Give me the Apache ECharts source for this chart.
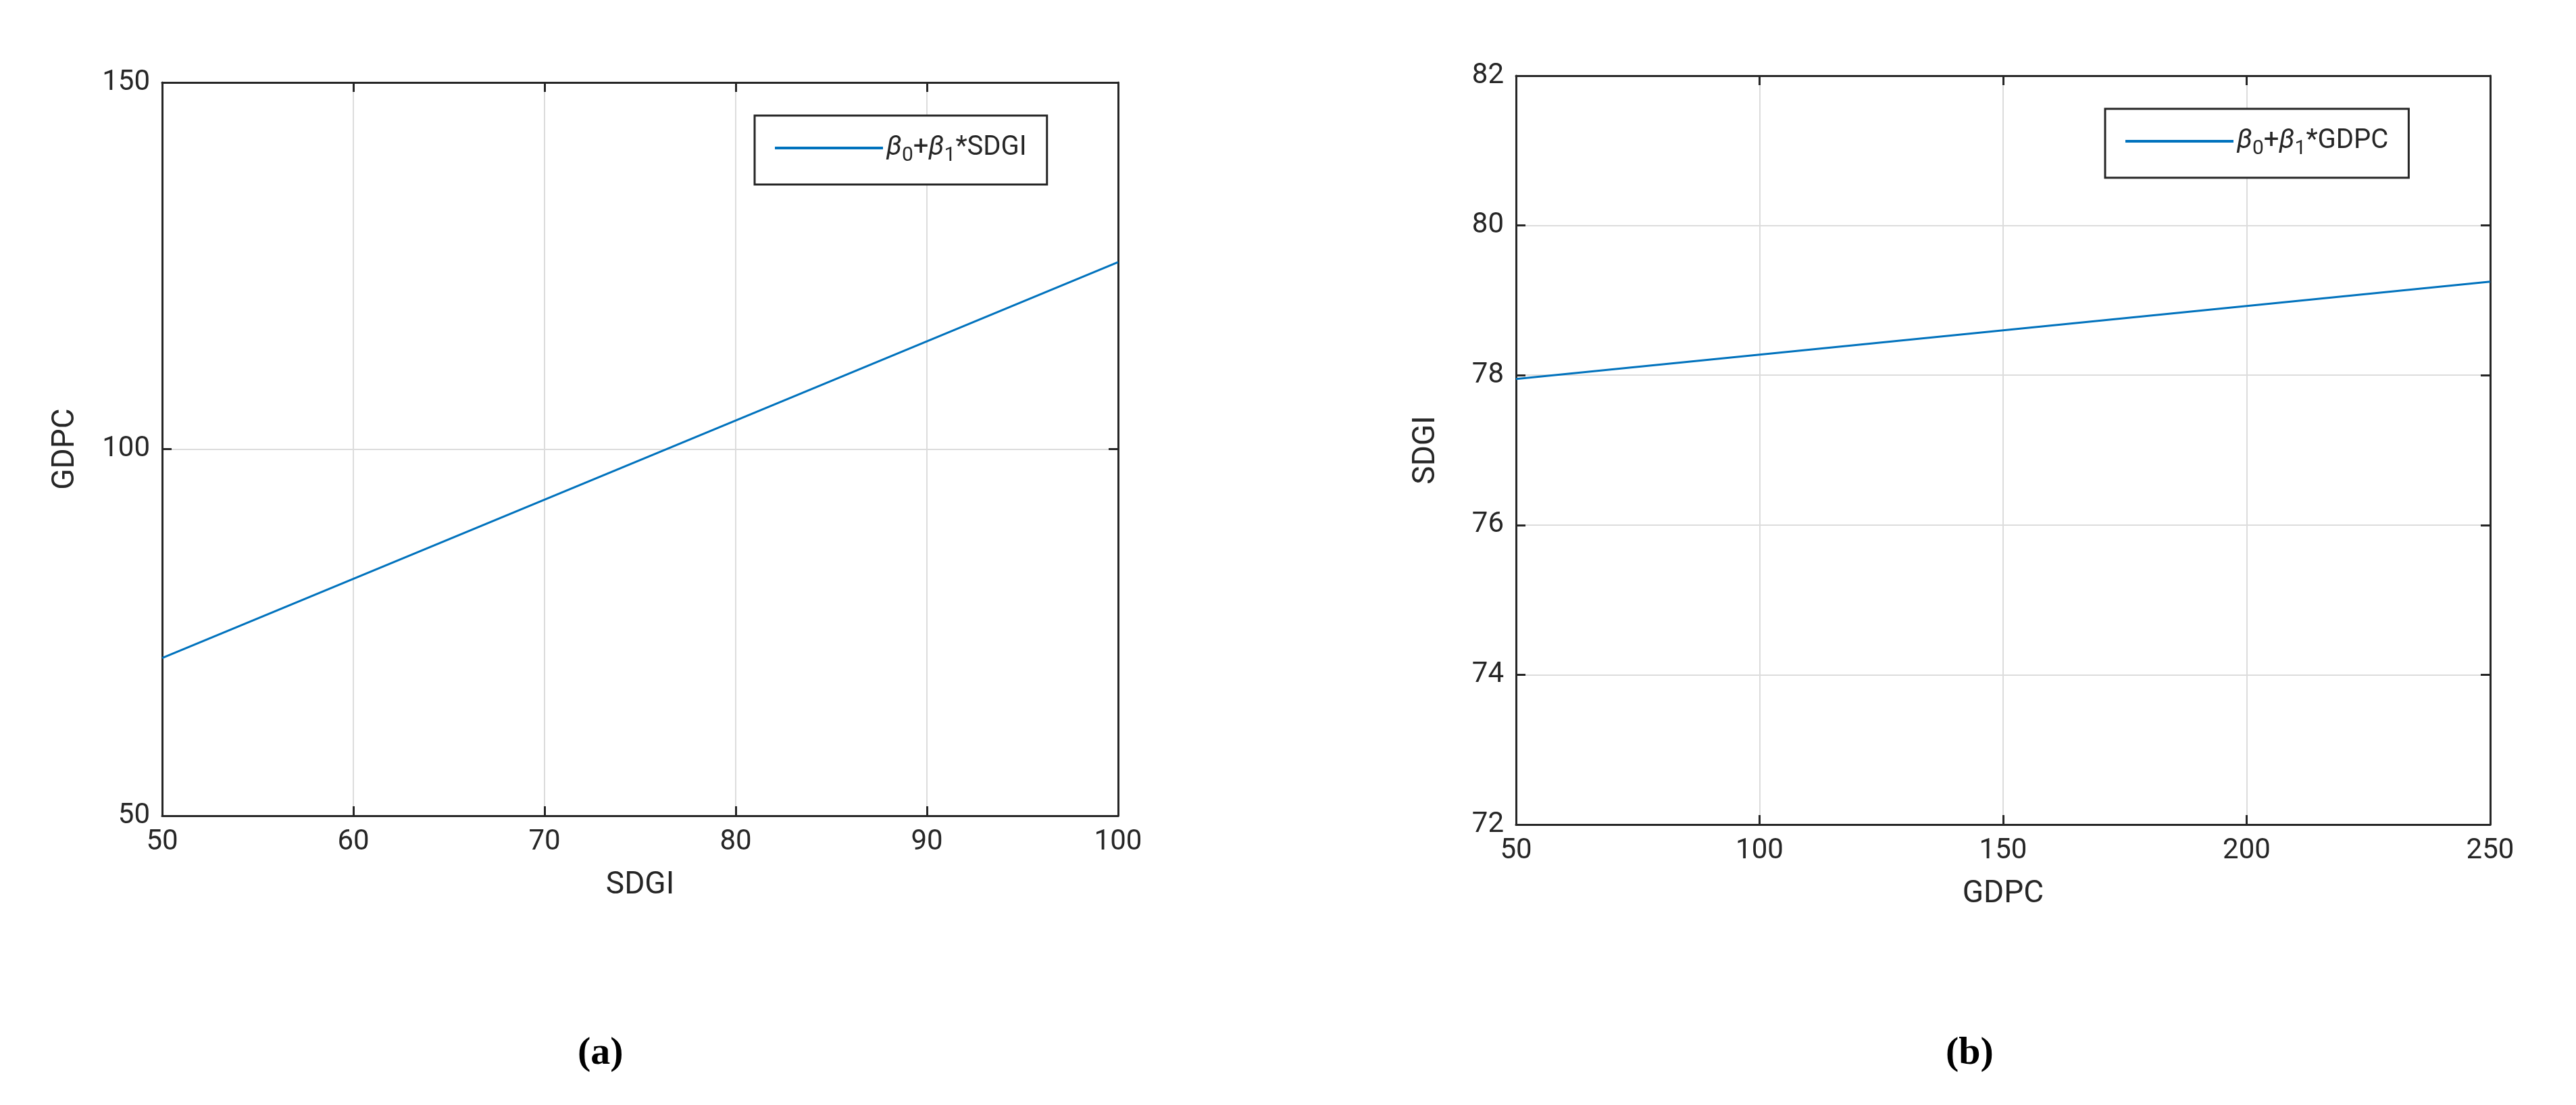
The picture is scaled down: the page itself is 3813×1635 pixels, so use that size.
<!DOCTYPE html><html><head><meta charset="utf-8"><script src="https://cdn.jsdelivr.net/npm/echarts@6/dist/echarts.min.js"></script>
<style>html,body{margin:0;background:#fff}#c{width:3813px;height:1635px}</style></head><body><div id="c"></div><script>
const sdgiA=[50,100], gdpcA=[71.5,125.5];
const gdpcB=[50,250], sdgiB=[77.95,79.25];
const ticksAX=[50,60,70,80,90,100], ticksAY=[50,100,150];
const ticksBX=[50,100,150,200,250], ticksBY=[72,74,76,78,80,82];
const F='Roboto, "Liberation Sans", sans-serif', C='#262626';
const ch=echarts.init(document.getElementById('c'));
function ax(pos,min,max,iv,gi,main,name,gap){
  return {type:'value',gridIndex:gi,position:pos,min,max,interval:iv,
    name:main?name:'',nameLocation:'middle',nameGap:gap,nameTextStyle:{fontSize:46,color:C,fontFamily:F},
    axisLine:{show:true,lineStyle:{color:C,width:3}},
    axisTick:{show:true,inside:true,length:14,lineStyle:{color:C,width:3}},
    axisLabel:{show:main,fontSize:42,color:C,fontFamily:F,margin:18},
    splitLine:{show:main,lineStyle:{color:'#dcdcdc',width:2}}};
}
const rich={i:{fontStyle:'italic',fontSize:40,fontFamily:F,color:C},s:{fontSize:30,fontFamily:F,color:C,padding:[22,0,0,0]},t:{fontSize:40,fontFamily:F,color:C}};
ch.setOption({animation:false,
 grid:[{left:240,top:122,width:1415,height:1085},{left:2244,top:112,width:1442,height:1108}],
 xAxis:[ax('bottom',50,100,10,0,true,'SDGI',80),ax('top',50,100,10,0,false),
        ax('bottom',50,250,50,1,true,'GDPC',80),ax('top',50,250,50,1,false)],
 yAxis:[ax('left',50,150,50,0,true,'GDPC',120),ax('right',50,150,50,0,false),
        ax('left',72,82,2,1,true,'SDGI',110),ax('right',72,82,2,1,false)],
 legend:[
  {left:1117,top:171,width:489,height:108,padding:[28,30,28,30],itemWidth:160,itemHeight:4,itemGap:20,borderColor:C,borderWidth:3,backgroundColor:'#fff',
   data:[{name:'A',icon:'rect'}],formatter:()=>'{i|β}{s|0}{t|+}{i|β}{s|1}{t|*SDGI}',textStyle:{rich}},
  {left:3116,top:161,width:523,height:108,padding:[28,30,28,30],itemWidth:160,itemHeight:4,itemGap:20,borderColor:C,borderWidth:3,backgroundColor:'#fff',
   data:[{name:'B',icon:'rect'}],formatter:()=>'{i|β}{s|0}{t|+}{i|β}{s|1}{t|*GDPC}',textStyle:{rich}}],
 series:[
  {name:'A',type:'line',xAxisIndex:0,yAxisIndex:0,symbol:'none',color:'#0072BD',lineStyle:{width:3},data:sdgiA.map((x,i)=>[x,gdpcA[i]])},
  {name:'B',type:'line',xAxisIndex:2,yAxisIndex:2,symbol:'none',color:'#0072BD',lineStyle:{width:3},data:gdpcB.map((x,i)=>[x,sdgiB[i]])}],
 graphic:[
  {type:'text',left:855,top:1530,style:{text:'(a)',font:'bold 58px "Liberation Serif", serif',fill:'#000',rich:{}}},
  {type:'text',left:2880,top:1530,style:{text:'(b)',font:'bold 58px "Liberation Serif", serif',fill:'#000'}}]
});
</script></body></html>
